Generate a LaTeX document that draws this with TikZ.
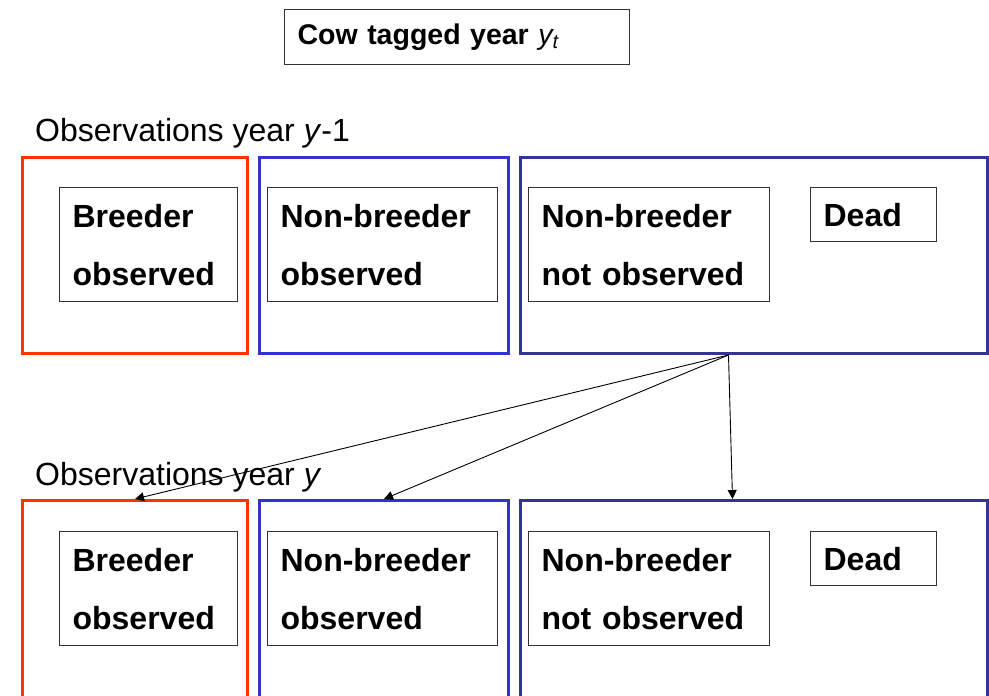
\documentclass[tikz,border=0pt]{standalone}
\usepackage{fontspec}
\setmainfont{Liberation Sans}
\usepackage{xcolor}
\usepackage{tikz}
\usetikzlibrary{arrows.meta,positioning,calc}
\definecolor{obsred}{HTML}{FF3300}
\definecolor{obsblue}{HTML}{3333CC}
\definecolor{hidblue}{HTML}{333399}

\begin{document}
\begin{tikzpicture}[x=1pt,y=-1pt,
  group/.style={line width=3pt, minimum width=#1, inner sep=0pt, anchor=north west},
  state/.style={draw=black!80, line width=1.2pt, text width=#1, align=left, inner xsep=13pt, inner ysep=0pt,
    anchor=north west, font=\bfseries\fontsize{32}{58}\selectfont},
  lab/.style={inner sep=0pt, anchor=base west, font=\fontsize{32}{38}\selectfont},
  arr/.style={-{Triangle[length=9pt,width=9pt]}, line width=0.9pt}]
\clip (0,0) rectangle (989,696);
\node[draw=black!80, line width=1.2pt, text width=319pt, inner xsep=13pt, minimum height=55pt, anchor=north west,
  font=\bfseries\fontsize{28.5}{34}\selectfont] (tag) at (284,9) {Cow tagged year {\mdseries\itshape y}\textsubscript{\mdseries\itshape t}};

\node[lab] (obsA) at (35,141) {Observations year \textit{y}-1};
\node[group=225pt, minimum height=196pt, draw=obsred] (breedA) at (21,156) {};
\node[group=249pt, minimum height=196pt, draw=obsblue] (nonbA) at (258,156) {};
\node[group=467pt, minimum height=196pt, draw=hidblue] (hidA) at (519,156) {};
\node[state=152pt, minimum height=114pt] (sbreedA) at (59,187) {Breeder\\observed};
\node[state=204pt, minimum height=114pt] (snonbA) at (267,187) {Non-breeder\\observed};
\node[state=215pt, minimum height=114pt] (shidA) at (528,187) {Non-breeder\\not observed};
\node[state=100pt, minimum height=54pt] (deadA) at (810,187) {Dead};

\node[lab] (obsB) at (35,485) {Observations year \textit{y}};
\node[group=225pt, minimum height=200pt, draw=obsred] (breedB) at (21,499) {};
\node[group=249pt, minimum height=200pt, draw=obsblue] (nonbB) at (258,499) {};
\node[group=467pt, minimum height=200pt, draw=hidblue] (hidB) at (519,499) {};
\node[state=152pt, minimum height=114pt] (sbreedB) at (59,531) {Breeder\\observed};
\node[state=204pt, minimum height=114pt] (snonbB) at (267,531) {Non-breeder\\observed};
\node[state=215pt, minimum height=114pt] (shidB) at (528,531) {Non-breeder\\not observed};
\node[state=100pt, minimum height=54pt] (deadB) at (810,531) {Dead};

\coordinate (src) at ([xshift=-25.5pt]hidA.south);
\draw[arr] (src) -- (breedB.north);
\draw[arr] (src) -- (nonbB.north);
\draw[arr] (src) -- ([xshift=-21.5pt]hidB.north);
\end{tikzpicture}
\end{document}
